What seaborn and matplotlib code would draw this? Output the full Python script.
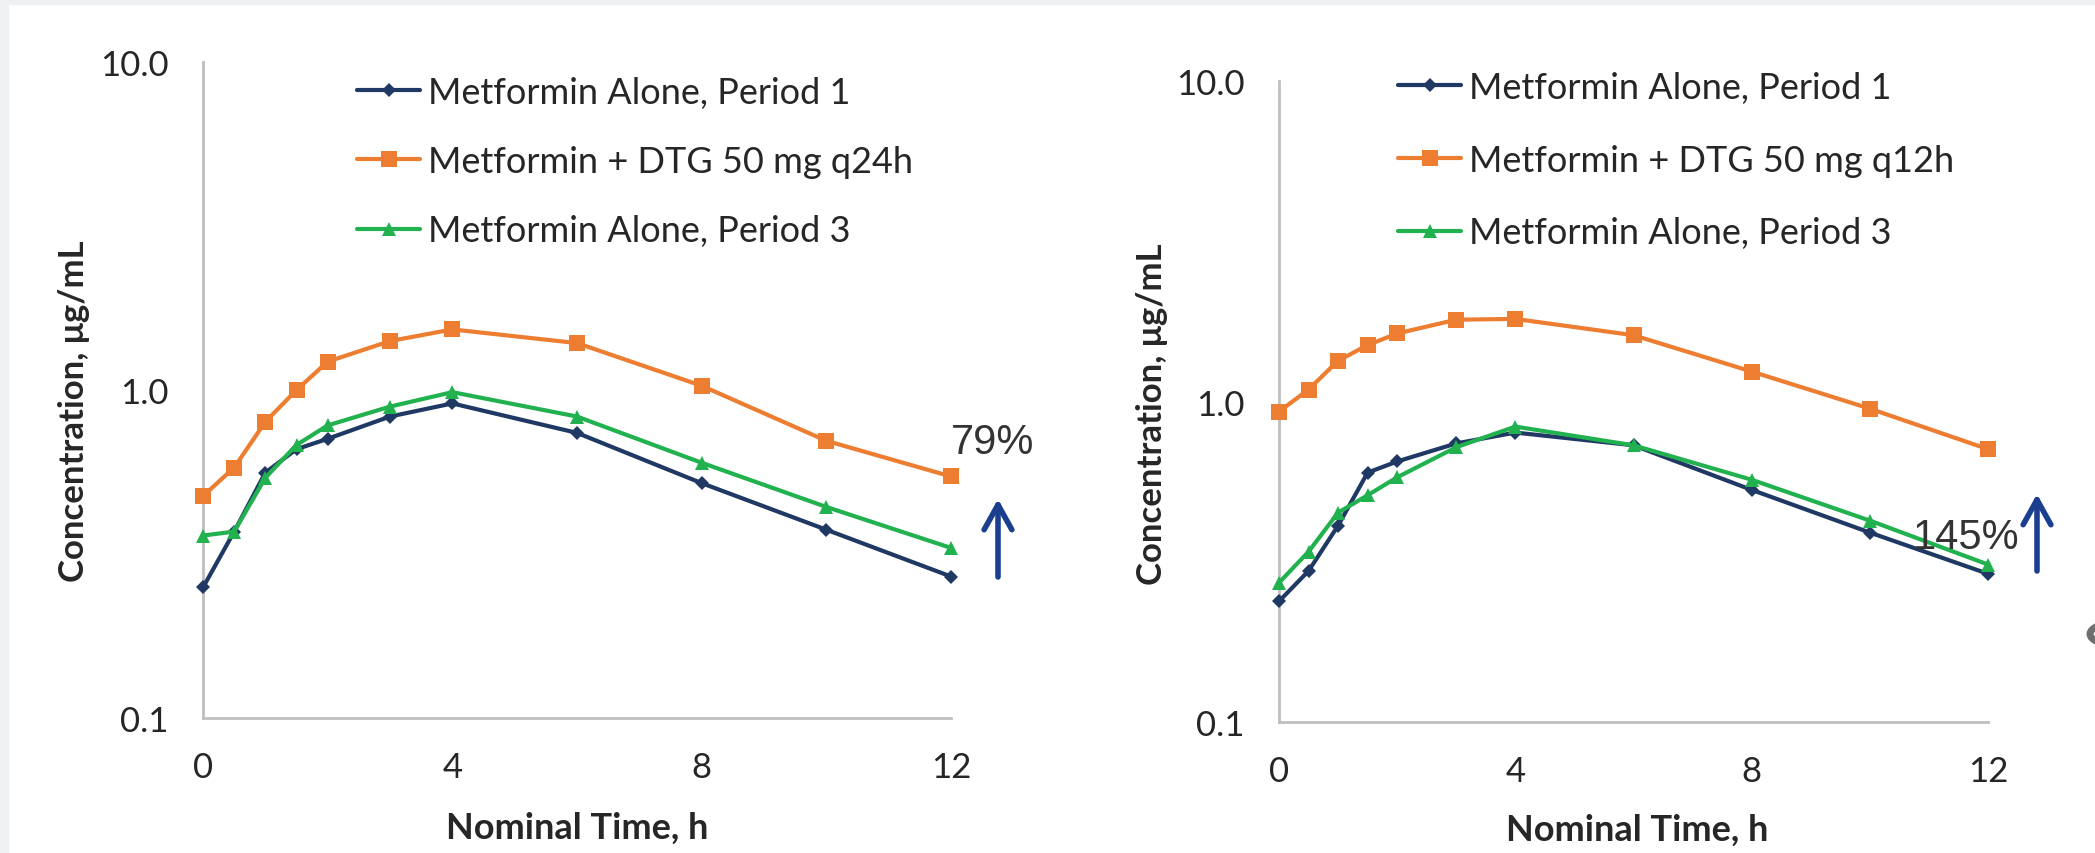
import matplotlib
matplotlib.use("Agg")
import matplotlib.pyplot as plt
from matplotlib.patches import Rectangle, Circle, FancyArrowPatch
import seaborn as sns
import pandas as pd

# Nominal sampling times (h)
time_h = [0, 0.5, 1, 1.5, 2, 3, 4, 6, 8, 10, 12]

# Left panel: metformin with DTG 50 mg q24h (ug/mL)
left_alone_p1 = [0.25, 0.37, 0.56, 0.66, 0.71, 0.83, 0.91, 0.74, 0.52, 0.375, 0.27]
left_with_dtg = [0.475, 0.58, 0.80, 1.0, 1.22, 1.41, 1.53, 1.39, 1.03, 0.70, 0.545]
left_alone_p3 = [0.36, 0.37, 0.54, 0.68, 0.78, 0.89, 0.985, 0.83, 0.60, 0.44, 0.33]

# Right panel: metformin with DTG 50 mg q12h (ug/mL)
right_alone_p1 = [0.238, 0.296, 0.41, 0.60, 0.65, 0.74, 0.80, 0.73, 0.53, 0.39, 0.29]
right_with_dtg = [0.93, 1.09, 1.34, 1.50, 1.63, 1.80, 1.81, 1.61, 1.24, 0.95, 0.71]
right_alone_p3 = [0.272, 0.34, 0.45, 0.51, 0.58, 0.72, 0.835, 0.73, 0.57, 0.425, 0.31]

left_labels = ["Metformin Alone, Period 1", "Metformin + DTG 50 mg q24h", "Metformin Alone, Period 3"]
right_labels = ["Metformin Alone, Period 1", "Metformin + DTG 50 mg q12h", "Metformin Alone, Period 3"]
increase_labels = ["79%", "145%"]

y_ticks = [0.1, 1.0, 10.0]
y_tick_labels = ["0.1", "1.0", "10.0"]
x_ticks = [0, 4, 8, 12]

sns.set_theme(style="white")
plt.rcParams["font.family"] = ["Lato", "DejaVu Sans"]

NAVY = "#1f3864"
ORANGE = "#ed7d31"
GREEN = "#21b24f"
ARROW = "#1b3f8f"
AXIS_GREY = "#bfbfbf"
TEXT = "#262626"

W, H = 2095, 854
fig = plt.figure(figsize=(W / 100, H / 100), dpi=100, facecolor="white")

# light grey frame along the top and left edges
fig.patches.append(Rectangle((0, 1 - 5 / H), 1, 5 / H, transform=fig.transFigure,
                             color="#eff0f2", zorder=0))
fig.patches.append(Rectangle((0, 0), 8 / W, 1, transform=fig.transFigure,
                             color="#eff0f2", zorder=0))
# partially visible round button at the right edge
fig.patches.append(Circle((2118 / W, 1 - 635 / H), 28 / W, transform=fig.transFigure,
                          facecolor="white", edgecolor="#6f6f6f", linewidth=5, zorder=1))


def fpos(x0, x1, ytop, ybot):
    return [x0 / W, 1 - ybot / H, (x1 - x0) / W, (ybot - ytop) / H]


ax_l = fig.add_axes(fpos(203, 951, 63, 719))
ax_r = fig.add_axes(fpos(1279, 1988, 82, 723))

styles = [
    dict(color=NAVY, marker="D", markersize=7),
    dict(color=ORANGE, marker="s", markersize=11),
    dict(color=GREEN, marker="^", markersize=10),
]


def draw_panel(ax, series, labels):
    for vals, lab, st in zip(series, labels, styles):
        df = pd.DataFrame({"time": time_h, "conc": vals})
        sns.lineplot(data=df, x="time", y="conc", ax=ax, label=lab, linewidth=3,
                     markeredgewidth=0, clip_on=False, zorder=3, **st)
    ax.set_yscale("log")
    ax.set_ylim(0.1, 10)
    ax.set_xlim(0, 12)
    ax.set_yticks(y_ticks)
    ax.set_yticklabels(y_tick_labels)
    ax.minorticks_off()
    ax.set_xticks(x_ticks)
    ax.set_xticklabels([str(t) for t in x_ticks])
    for s in ("top", "right"):
        ax.spines[s].set_visible(False)
    for s in ("left", "bottom"):
        ax.spines[s].set_color(AXIS_GREY)
        ax.spines[s].set_linewidth(2)
    ax.tick_params(axis="both", direction="out", length=9, width=2, color=AXIS_GREY,
                   labelsize=25, labelcolor=TEXT)
    ax.tick_params(axis="y", pad=16)
    ax.tick_params(axis="x", pad=15)
    ax.set_xlabel("")
    ax.set_ylabel("")
    ax.patch.set_alpha(0)
    ax.get_legend().remove()


draw_panel(ax_l, [left_alone_p1, left_with_dtg, left_alone_p3], left_labels)
draw_panel(ax_r, [right_alone_p1, right_with_dtg, right_alone_p3], right_labels)


def add_legend(ax, x_left, y_top, spacing):
    handles, labels = ax.get_legend_handles_labels()
    fig.legend(handles, labels, loc="upper left",
               bbox_to_anchor=(x_left / W, 1 - y_top / H), frameon=False,
               fontsize=26, handlelength=1.75, handletextpad=0.22,
               labelspacing=spacing, borderpad=0, borderaxespad=0,
               labelcolor=TEXT)


add_legend(ax_l, 357, 77, 1.0)
add_legend(ax_r, 1398, 72, 1.1)

# axis titles
for xc, yc in [(74, 411), (1152, 414)]:
    fig.text(xc / W, 1 - yc / H, "Concentration, μg/mL", rotation=90, ha="center",
             va="center", fontsize=25, fontweight="bold", color=TEXT)
for xc, yc in [(577, 828), (1637, 830)]:
    fig.text(xc / W, 1 - yc / H, "Nominal Time, h", ha="center", va="center",
             fontsize=26, fontweight="bold", color=TEXT)

# increase annotations with open-headed arrows
arrow_kw = dict(arrowstyle="->,head_length=0.9,head_width=0.5", color=ARROW, lw=4,
                shrinkA=0, shrinkB=0, mutation_scale=20, transform=fig.transFigure)
fig.add_artist(FancyArrowPatch((998 / W, 1 - 578 / H), (998 / W, 1 - 500 / H), **arrow_kw))
fig.add_artist(FancyArrowPatch((2037 / W, 1 - 572 / H), (2037 / W, 1 - 495 / H), **arrow_kw))
fig.text(993 / W, 1 - 443 / H, increase_labels[0], ha="center", va="center",
         fontsize=30, color="#333333", family="Liberation Sans")
fig.text(1966 / W, 1 - 538 / H, increase_labels[1], ha="center", va="center",
         fontsize=30, color="#333333", family="Liberation Sans")

fig.savefig("out.png", dpi=100, facecolor="white")
